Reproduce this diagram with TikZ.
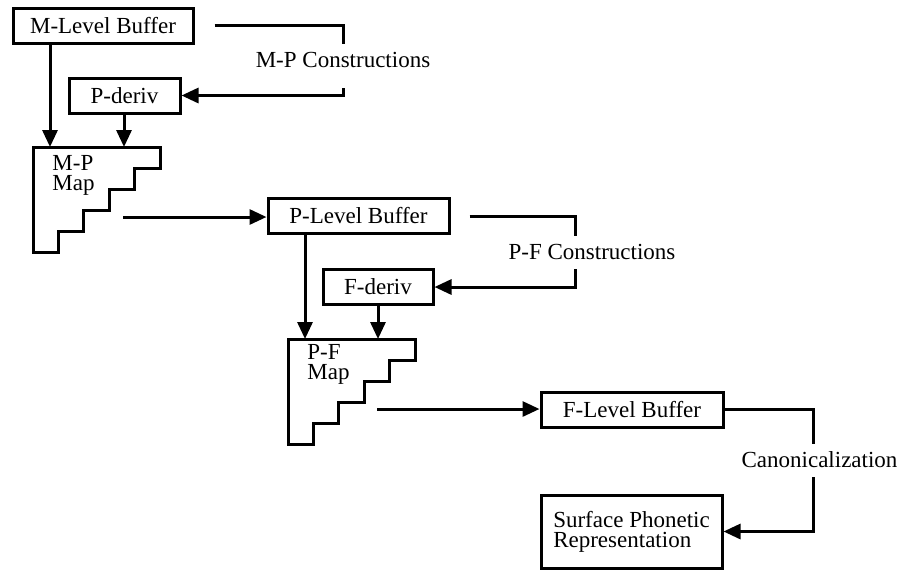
\documentclass[tikz,border=0pt]{standalone}
\usepackage{fontspec}
\setmainfont{Liberation Serif}
\usetikzlibrary{arrows.meta}
\tikzset{
	txt/.style={font=\fontsize{11.5}{10}\selectfont},
	con/.style={line width=1.5pt},
	arr/.style={con,-{Triangle[length=8.5pt,width=7.5pt]}},
	buf/.style={txt,draw,line width=1.5pt,inner sep=0pt,minimum height=17.5pt},
	lbl/.style={txt,anchor=base,inner xsep=0pt,inner ysep=3.5pt,text height=8pt,text depth=1.5pt},
	maptxt/.style={txt,anchor=north west,inner sep=0pt,align=left},
	pics/stairs/.style={code={
		\draw[con] (0,0) -- (127,0) \foreach \i in {1,...,5}{ |- ++(-25.4,21)} -- cycle;
	}}
}
\begin{document}
\begin{tikzpicture}[x=0.5pt,y=-0.5pt]
			\useasboundingbox (0,0) rectangle (903,569);
			\node[buf,minimum width=90pt] (mlev) at (103,25.5) {M-Level Buffer};
			\node[buf,minimum width=55.5pt] (pderiv) at (124.5,95.5) {P-deriv};
			\node[lbl,text depth=7pt] (mpcon) at (343,67) {M-P Constructions};
			\pic at (33,147) {stairs};
			\node[maptxt] (mptxt) at (52,155) {M-P\\Map};
			\coordinate (mpin1) at (50,147);
			\coordinate (mpin2) at (124,147);
			\coordinate (mpout) at (123,217);
			\node[buf,minimum width=90.5pt] (plev) at (358.5,216) {P-Level Buffer};
			\node[buf,minimum width=55pt] (fderiv) at (378,287) {F-deriv};
			\node[lbl] (pfcon) at (592,259) {P-F Constructions};
			\pic at (288,339) {stairs};
			\node[maptxt] (pftxt) at (307,344) {P-F\\Map};
			\coordinate (pfin1) at (305,339);
			\coordinate (pfin2) at (378,339);
			\coordinate (pfout) at (377,409);
			\node[buf,minimum width=91pt] (flev) at (632,409.5) {F-Level Buffer};
			\node[lbl] (cancon) at (819.5,467) {Canonicalization};
			\node[buf,minimum width=90.5pt,minimum height=36.5pt,align=left] (surf) at (631.5,531.5) {Surface Phonetic\\Representation};
			\draw[con] ([xshift=10pt]mlev.east) -| (mpcon.north);
			\draw[arr] (mpcon.south) |- (pderiv.east);
			\draw[arr] (mlev.south -| mpin1) -- (mpin1);
			\draw[arr] (pderiv.south -| mpin2) -- (mpin2);
			\draw[arr] (mpout) -- (plev.west |- mpout);
			\draw[con] ([xshift=9.5pt]plev.east) -| ([xshift=-8.5pt]pfcon.north);
			\draw[arr] ([xshift=-8.5pt]pfcon.south) |- (fderiv.east);
			\draw[arr] (plev.south -| pfin1) -- (pfin1);
			\draw[arr] (fderiv.south -| pfin2) -- (pfin2);
			\draw[arr] (pfout) -- (flev.west |- pfout);
			\draw[con] (flev.east) -| ([xshift=-3.25pt]cancon.north);
			\draw[arr] ([xshift=-3.25pt]cancon.south) |- (surf.east);
		\end{tikzpicture}
\end{document}
